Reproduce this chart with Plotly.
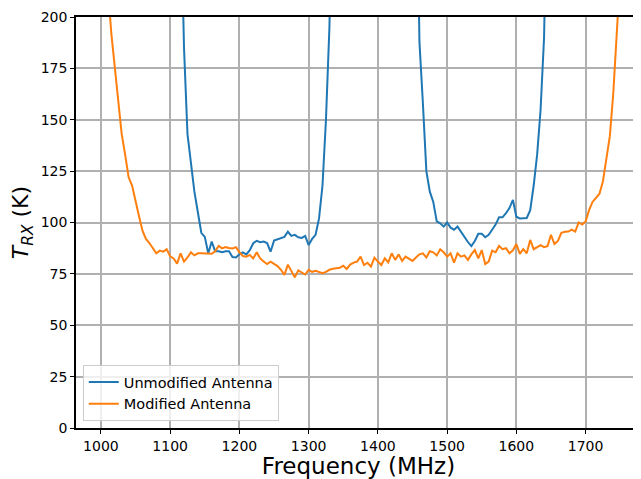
import plotly.graph_objects as go

# Modified antenna: 1000-1755 MHz, 5 MHz steps
mod_freq = list(range(1000, 1760, 5))
mod_temp = [
    290, 250, 215, 192, 175, 158, 143, 133, 122, 118,
    110, 103, 96, 92, 90, 87.5, 85, 86.3, 85.8, 87,
    83.5, 82.5, 80, 85, 81, 83, 85.5, 84, 85, 85,
    85, 85, 84.8, 86, 88.6, 87.4, 88, 87.6, 87.4, 88,
    85.5, 83.7, 83.4, 84.2, 82.5, 85.5, 82.5, 81, 79.8, 80.9,
    80, 78.8, 77, 74.5, 79.5, 76, 73.3, 76.7, 75.6, 74.7,
    77, 76, 76.5, 76, 75.3, 76, 77, 77.5, 77.7, 78,
    79, 77.4, 79.5, 80.5, 81, 83.4, 79.3, 80.4, 78.5, 82.9,
    81, 79.3, 82.6, 80.6, 85, 81.8, 84.5, 81.3, 83.4, 82.5,
    81.3, 83, 84.5, 85, 83, 86, 85.5, 84, 87, 85.5,
    83.4, 85, 80.4, 85, 83.4, 84, 81.8, 84.5, 86.6, 82.5,
    86.6, 79.8, 81, 86.3, 85.5, 88.6, 87, 87.5, 85, 86.5,
    89.5, 84.7, 87, 85, 91.5, 87, 88, 89, 88, 88.5,
    94, 89.5, 91, 95, 95.5, 95.6, 96.5, 95.6, 100, 99,
    100.5, 106, 110, 112, 114, 120, 130, 142, 163, 188,
    215, 250,
]

# Unmodified antenna: two passbands
unmod_freq_low = list(range(1115, 1340, 5))
unmod_temp_low = [
    260, 185, 143, 128, 115, 105, 95, 93, 85,
    90.7, 86, 86, 85.5, 86, 86, 83.2, 83, 84.5, 85.5,
    84.5, 86.5, 89.9, 91.1, 90.4, 90.7, 90, 85.8, 91.2, 91.8,
    92.6, 93, 95.5, 93.5, 94, 92.8, 92.5, 93.5, 89, 92,
    94, 102, 118, 150, 195, 280,
]
unmod_freq_high = list(range(1455, 1650, 5))
unmod_temp_high = [
    300, 188, 158, 125, 115, 110, 100.5, 99.6, 98, 100,
    97.5, 96.5, 98, 95.5, 92.5, 90.5, 88.5, 91, 94.5, 94.5,
    92.8, 94, 96.5, 99, 102.5, 102.5, 104.5, 107, 111, 102.8,
    102, 102, 102.2, 106, 118, 133, 155, 190, 280,
]

x_ticks = [1000, 1100, 1200, 1300, 1400, 1500, 1600, 1700]
y_ticks = [0, 25, 50, 75, 100, 125, 150, 175, 200]

unmod_x = unmod_freq_low + [None] + unmod_freq_high
unmod_y = unmod_temp_low + [None] + unmod_temp_high

fig = go.Figure()
fig.add_trace(go.Scatter(x=unmod_x, y=unmod_y, mode="lines",
                         name="Unmodified Antenna",
                         line=dict(color="#1f77b4", width=2),
                         connectgaps=False))
fig.add_trace(go.Scatter(x=mod_freq, y=mod_temp, mode="lines",
                         name="Modified Antenna",
                         line=dict(color="#ff7f0e", width=2)))

axis_font = dict(family="DejaVu Sans", size=14, color="black")

# page body has an 8px margin, so the figure is sized to fit the 641x479 window
fig.update_layout(
    width=633, height=471,
    margin=dict(l=68, r=0, t=9, b=51, autoexpand=False),
    paper_bgcolor="white", plot_bgcolor="white",
    font=dict(family="DejaVu Sans", color="black"),
    showlegend=True,
    legend=dict(x=0.012, y=0.017, xanchor="left", yanchor="bottom",
                bgcolor="rgba(255,255,255,0.8)", bordercolor="#cccccc",
                borderwidth=1, font=dict(family="DejaVu Sans", size=14.5),
                itemwidth=30, tracegroupgap=0),
    xaxis=dict(
        range=[964, 1780], tickvals=x_ticks,
        ticktext=[str(v) for v in x_ticks],
        showgrid=True, gridcolor="#b0b0b0", gridwidth=1.5,
        showline=True, linecolor="black", linewidth=1.5, mirror=True,
        ticks="outside", ticklen=4, tickcolor="black", tickwidth=1.2,
        tickfont=axis_font, zeroline=False,
        title=dict(text="Frequency (MHz)", font=dict(family="DejaVu Sans", size=23),
                   standoff=4),
    ),
    yaxis=dict(
        range=[0, 200], tickvals=y_ticks,
        ticktext=[str(v) for v in y_ticks],
        showgrid=True, gridcolor="#b0b0b0", gridwidth=1.5,
        showline=True, linecolor="black", linewidth=1.5, mirror=False,
        ticks="outside", ticklen=4, tickcolor="black", tickwidth=1.2,
        tickfont=axis_font, zeroline=False,
        title=dict(text="<i>T</i><sub><i>RX</i></sub> (K)",
                   font=dict(family="DejaVu Sans", size=22), standoff=6),
    ),
)

fig.write_html("out.html")
